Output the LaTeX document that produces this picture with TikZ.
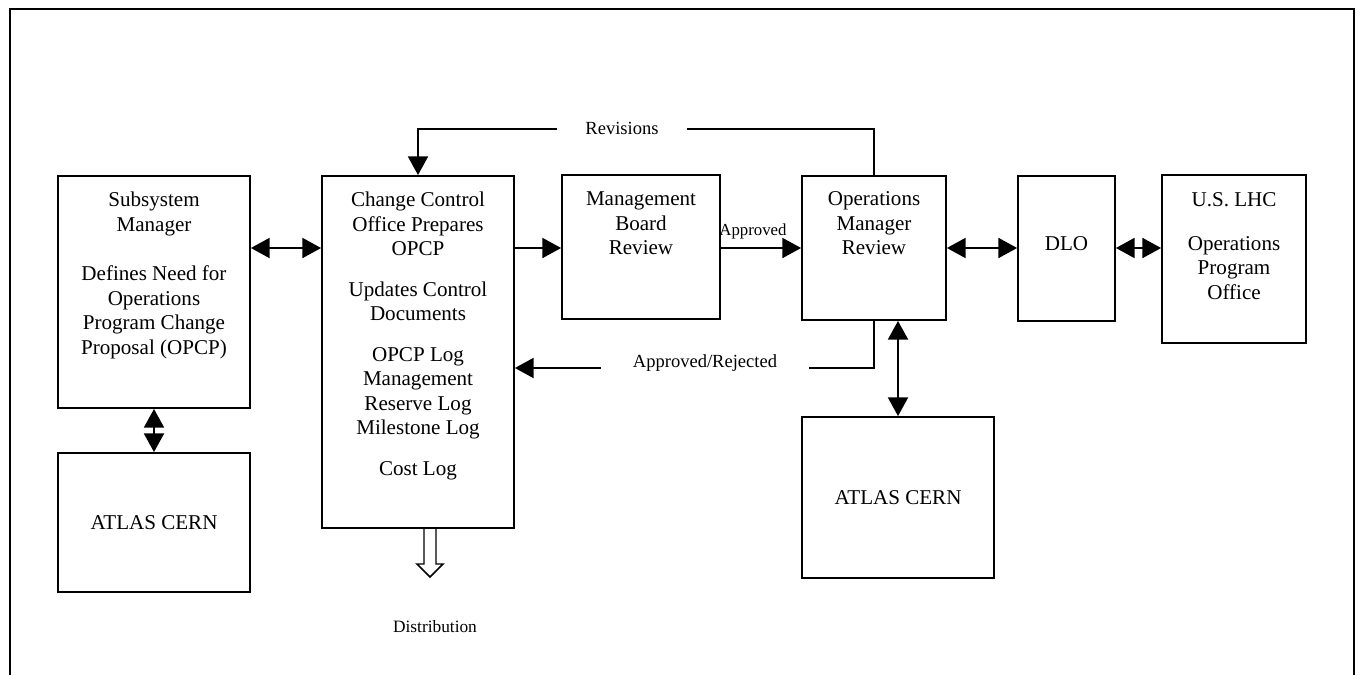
\documentclass[tikz,border=0pt]{standalone}
\usepackage{fontspec}
\setmainfont{Liberation Serif}
\usetikzlibrary{arrows.meta,fit}

\begin{document}
\begin{tikzpicture}[x=0.75pt,y=-0.75pt,
  line width=1.4pt,
  box/.style={draw,rectangle,inner sep=0pt,line width=1.4pt},
  boxtext/.style={anchor=north,inner sep=0pt,align=center,
    font=\fontsize{15.8}{18.4}\selectfont},
  lbl/.style={inner sep=0pt,font=\fontsize{13.9}{16}\selectfont},
  gaplbl/.style={lbl,fill=white,inner ysep=3pt},
  tip/.style={-{Triangle[length=14pt,width=15pt]}},
  both/.style={{Triangle[length=14pt,width=15pt]}-{Triangle[length=14pt,width=15pt]}}
]
\useasboundingbox (0,0) rectangle (1360,675);

% outer frame, open at the bottom
\draw[line width=1.6pt] (10,675) -- (10,9) -- (1354,9) -- (1354,675);

% boxes
\node[box,fit={(58,176) (250,408)}] (ssm) {};
\node[box,fit={(322,176) (514,528)}] (cc) {};
\node[box,fit={(562,175) (720,319)}] (mb) {};
\node[box,fit={(802,176) (946,320)}] (om) {};
\node[box,fit={(1018,176) (1115,321)}] (dlo) {};
\node[box,fit={(1162,175) (1306,343)}] (lhc) {};
\node[box,fit={(58,453) (250,592)}] (atl1) {};
\node[box,fit={(802,417) (994,578)}] (atl2) {};

% box texts
\node[boxtext] (ssmt) at (154,191) {Subsystem\\Manager\\[18.7pt]Defines Need for\\Operations\\Program Change\\Proposal (OPCP)};
\node[boxtext] (cct) at (418,191) {Change Control\\Office Prepares\\OPCP\\[12pt]Updates Control\\Documents\\[12pt]OPCP Log\\Management\\Reserve Log\\Milestone Log\\[12pt]Cost Log};
\node[boxtext] (mbt) at (641,191) {Management\\Board\\Review};
\node[boxtext] (omt) at (874,191) {Operations\\Manager\\Review};
\node[boxtext] (dlot) at (1066.5,236) {DLO};
\node[boxtext] (lhct) at (1234,192) {U.S. LHC\\[14pt]Operations\\Program\\Office};
\node[boxtext] (atl1t) at (154,515) {ATLAS CERN};
\node[boxtext] (atl2t) at (898,490) {ATLAS CERN};

% reference rows for the connectors
\coordinate (row) at (0,248);
\coordinate (rev) at (0,129);
\coordinate (ar) at (0,368);

% horizontal flow
\draw[both] (ssm.east |- row) -- (cc.west |- row);
\draw[tip] (cc.east |- row) -- (mb.west |- row);
\draw[tip] (mb.east |- row) -- (om.west |- row);
\node[inner sep=0pt,font=\fontsize{12.6}{14}\selectfont] (apr) at (753,231) {Approved};
\draw[both] (om.east |- row) -- (dlo.west |- row);
\draw[both] (dlo.east |- row) -- (lhc.west |- row);

% vertical links to ATLAS CERN
\draw[both] (ssm.south) -- (atl1.north);
\draw[both] (om.south -| atl2.north) -- (atl2.north);

% revisions loop
\draw[tip] (om.north) -- (om.north |- rev) -- (cc.north |- rev) -- (cc.north);
\node[gaplbl,inner xsep=21pt] (revl) at (622,128) {Revisions};

% approved / rejected return
\draw[tip] (om.south) -- (om.south |- ar) -- (cc.east |- ar);
\node[gaplbl,inner xsep=24pt] (arl) at (705,363) {Approved/Rejected};

% distribution block arrow
\coordinate (d) at (430,528);
\draw[line width=1.1pt,line join=miter] (d) ++(-6,0) -- ++(0,36) -- ++(-7,0) -- ++(13,13) -- ++(13,-13) -- ++(-7,0) -- ++(0,-36);
\node[inner sep=0pt,font=\fontsize{13}{15}\selectfont] (dist) at (435,627) {Distribution};
\end{tikzpicture}
\end{document}
